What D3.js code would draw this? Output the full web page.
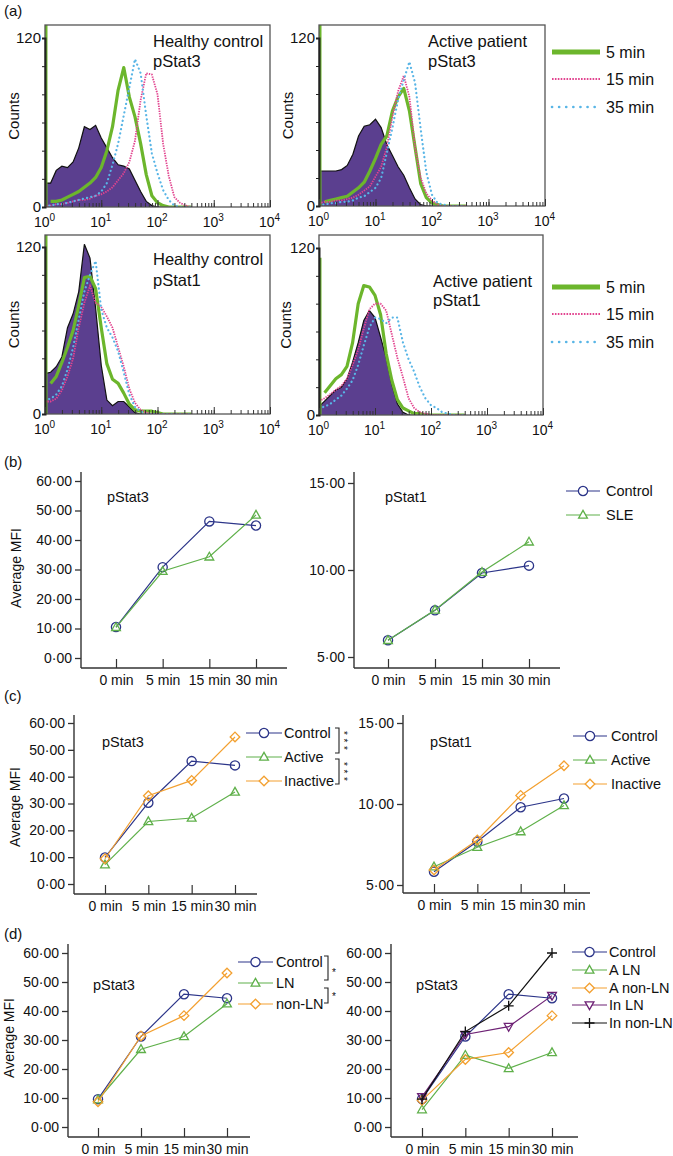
<!DOCTYPE html>
<html>
  <head>
    <meta charset="utf-8" />
    <title>pStat3 / pStat1 figure</title>
    <script src="https://d3js.org/d3.v7.min.js"></script>
    <style>
      body { margin: 0; background: #fff; }
      svg text { font-family: "Liberation Sans", Arial, sans-serif; fill: #111; }
    </style>
  </head>
  <body>
    <svg id="fig" width="673" height="1156"></svg>
    <script>
      // ---------- (a) flow histograms, counts per log10 bin ----------
      var logBins = [0.0, 0.1, 0.2, 0.3, 0.4, 0.5, 0.6, 0.7, 0.8, 0.9, 1.0, 1.1, 1.2, 1.3,
                     1.4, 1.5, 1.6, 1.7, 1.8, 1.9, 2.0, 2.1, 2.2, 2.3, 2.4, 2.5, 2.6];
      var decades = [1, 10, 100, 1000, 10000];
      var decadeExp = ["0", "1", "2", "3", "4"];
      var legendTimes = ["5 min", "15 min", "35 min"];

      // healthy control, pStat3 (first 5 min value = pile-up on the axis)
      var hcS3Unstim = [17, 17, 26, 29, 28, 32, 42, 57, 55, 58, 49, 42, 35, 30, 29, 27, 19, 11, 4, 1, 0, 0, 0, 0, 0, 0, 0];
      var hcS3Min5   = [135, 4, 4, 5, 7, 9, 11, 14, 17, 21, 28, 40, 57, 83, 99, 78, 64, 45, 23, 8, 3, 1, 0, 0, 0, 0, 0];
      var hcS3Min15  = [1, 1, 2, 2, 3, 4, 5, 5, 6, 8, 9, 11, 14, 19, 24, 32, 47, 76, 95, 94, 80, 45, 22, 7, 3, 1, 0];
      var hcS3Min35  = [1, 1, 2, 2, 3, 4, 5, 6, 7, 8, 11, 17, 30, 45, 65, 85, 105, 95, 65, 38, 24, 12, 5, 1, 0, 0, 0];
      // active patient, pStat3
      var apS3Unstim = [25, 25, 25, 25, 26, 29, 37, 50, 57, 58, 62, 56, 44, 36, 28, 22, 13, 5, 1, 0, 0, 0, 0, 0, 0, 0, 0];
      var apS3Min5   = [135, 3, 4, 5, 6, 7, 10, 13, 17, 25, 34, 44, 50, 68, 78, 84, 68, 42, 16, 6, 2, 1, 0, 0, 0, 0, 0];
      var apS3Min15  = [2, 3, 3, 4, 4, 5, 6, 8, 11, 14, 21, 28, 42, 64, 82, 93, 78, 42, 20, 9, 4, 1, 0, 0, 0, 0, 0];
      var apS3Min35  = [1, 1, 2, 2, 3, 3, 4, 6, 7, 10, 13, 20, 38, 56, 76, 90, 103, 88, 55, 24, 8, 2, 1, 0, 0, 0, 0];
      // healthy control, pStat1
      var hcS1Unstim = [29, 30, 34, 41, 62, 72, 88, 122, 112, 76, 35, 10, 6, 9, 9, 5, 1, 0, 0, 0, 0, 0, 0, 0, 0, 0, 0];
      var hcS1Min5   = [135, 22, 27, 37, 48, 60, 78, 98, 99, 90, 62, 36, 25, 22, 15, 7, 3, 2, 2, 2, 1, 0, 0, 0, 0, 0, 0];
      var hcS1Min15  = [9, 9, 11, 17, 27, 40, 62, 80, 92, 80, 77, 70, 62, 48, 34, 18, 8, 3, 1, 0, 0, 0, 0, 0, 0, 0, 0];
      var hcS1Min35  = [10, 11, 14, 20, 32, 48, 68, 88, 100, 110, 75, 62, 55, 45, 30, 14, 5, 2, 0, 0, 0, 0, 0, 0, 0, 0, 0];
      // active patient, pStat1
      var apS1Unstim = [6, 10, 14, 18, 20, 26, 38, 52, 68, 75, 70, 56, 41, 22, 8, 2, 0, 0, 0, 0, 0, 0, 0, 0, 0, 0, 0];
      var apS1Min5   = [113, 16, 21, 26, 29, 35, 52, 80, 93, 92, 86, 72, 44, 25, 11, 5, 3, 1, 1, 0, 0, 0, 0, 0, 0, 0, 0];
      var apS1Min15  = [10, 12, 15, 18, 21, 26, 36, 47, 62, 76, 80, 80, 75, 58, 41, 27, 12, 5, 2, 1, 0, 0, 0, 0, 0, 0, 0];
      var apS1Min35  = [5, 6, 8, 11, 14, 19, 25, 36, 50, 63, 70, 69, 66, 70, 70, 52, 40, 31, 20, 12, 7, 5, 2, 1, 0, 0, 0];

      // ---------- (b)-(d) average MFI ----------
      var times = ["0 min", "5 min", "15 min", "30 min"];
      var ticks60 = [0, 10, 20, 30, 40, 50, 60];
      var ticks15 = [5, 10, 15];

      var bCtrl3 = [10.5, 30.8, 46.3, 44.9];
      var bSle3  = [10.4, 29.4, 34.3, 48.5];
      var bCtrl1 = [5.96, 7.68, 9.83, 10.25];
      var bSle1  = [5.96, 7.70, 9.88, 11.62];

      var cCtrl3 = [9.9, 30.3, 45.8, 44.2];
      var cAct3  = [7.2, 23.3, 24.6, 34.3];
      var cInact3 = [9.4, 32.9, 38.6, 54.8];
      var cCtrl1 = [5.82, 7.68, 9.80, 10.34];
      var cAct1  = [6.13, 7.33, 8.30, 9.91];
      var cInact1 = [5.93, 7.78, 10.53, 12.36];

      var dCtrl3  = [9.6, 31.2, 45.8, 44.4];
      var dLn3    = [9.4, 26.8, 31.2, 42.5];
      var dNonLn3 = [8.7, 31.4, 38.4, 53.1];
      var dALn    = [6.0, 24.8, 20.2, 25.7];
      var dANonLn = [9.2, 23.3, 25.7, 38.4];
      var dInLn   = [10.4, 31.9, 34.6, 45.3];
      var dInNonLn = [9.6, 32.9, 41.8, 60.0];

      var svg = d3.select("#fig");
      var purple = "#5b3f8f", green = "#6cb62c", pink = "#e2448f", blue = "#58b5e6";

      var label = function (x, y, s, size, anchor) {
        return svg.append("text").attr("x", x).attr("y", y).attr("font-size", size)
          .attr("text-anchor", anchor || "start").text(s);
      };
      var vlabel = function (x, y, s, size) {
        return svg.append("text").attr("transform", "translate(" + x + "," + y + ") rotate(-90)")
          .attr("font-size", size).attr("text-anchor", "middle").text(s);
      };

      label(4, 16, "(a)", 15);
      label(4, 467, "(b)", 15);
      label(4, 701, "(c)", 15);
      label(4, 939, "(d)", 15);

      // ---------- histogram panels ----------
      var histPanels = [
        { id: "hTL", x0: 45, x1: 270, top: 25, bottom: 207, y120: 38, tx: 153, ty: 47, gap: 20,
          title: ["Healthy control", "pStat3"], cx: 19, data: [hcS3Unstim, hcS3Min5, hcS3Min15, hcS3Min35] },
        { id: "hTR", x0: 319, x1: 545, top: 25, bottom: 206, y120: 38, tx: 428, ty: 47, gap: 20,
          title: ["Active patient", "pStat3"], cx: 293, data: [apS3Unstim, apS3Min5, apS3Min15, apS3Min35] },
        { id: "hBL", x0: 45, x1: 270, top: 235, bottom: 414, y120: 247, tx: 153, ty: 265, gap: 21,
          title: ["Healthy control", "pStat1"], cx: 19, data: [hcS1Unstim, hcS1Min5, hcS1Min15, hcS1Min35] },
        { id: "hBR", x0: 319, x1: 543, top: 235, bottom: 415, y120: 248, tx: 433, ty: 287, gap: 19,
          title: ["Active patient", "pStat1"], cx: 291, data: [apS1Unstim, apS1Min5, apS1Min15, apS1Min35] }
      ];

      histPanels.forEach(function (p) {
        var g = svg.append("g");
        var x = d3.scaleLog().domain([1, 10000]).range([p.x0, p.x1]);
        var y = d3.scaleLinear().domain([0, 120]).range([p.bottom, p.y120]);

        g.append("clipPath").attr("id", "clip" + p.id).append("rect")
          .attr("x", p.x0).attr("y", p.top).attr("width", p.x1 - p.x0).attr("height", p.bottom - p.top);
        var plot = g.append("g").attr("clip-path", "url(#clip" + p.id + ")");

        var bx = function (d, i) { return x(Math.pow(10, logBins[i])); };
        var area = d3.area().x(bx).y0(y(0)).y1(function (d) { return y(d); });
        var line = d3.line().x(bx).y(function (d) { return y(d); });
        var afterPile = d3.line().defined(function (d, i) { return i > 0; }).x(bx).y(function (d) { return y(d); });

        plot.append("path").datum(p.data[0]).attr("d", area).attr("fill", purple);
        plot.append("path").datum(p.data[0]).attr("d", line).attr("fill", "none")
          .attr("stroke", "#111").attr("stroke-width", 1.2);
        // 5 min: pile-up in the first channel drawn on the axis, then the curve
        plot.append("line").attr("x1", x(1) + 1).attr("x2", x(1) + 1)
          .attr("y1", y(0)).attr("y2", y(p.data[1][0])).attr("stroke", green).attr("stroke-width", 3);
        plot.append("path").datum(p.data[1]).attr("d", afterPile).attr("fill", "none")
          .attr("stroke", green).attr("stroke-width", 3.2).attr("stroke-linejoin", "round");
        plot.append("path").datum(p.data[2]).attr("d", line).attr("fill", "none")
          .attr("stroke", pink).attr("stroke-width", 1.8).attr("stroke-dasharray", "1.4,1.1");
        plot.append("path").datum(p.data[3]).attr("d", line).attr("fill", "none")
          .attr("stroke", blue).attr("stroke-width", 2.2).attr("stroke-linecap", "round")
          .attr("stroke-dasharray", "0.1,4.2");

        g.append("rect").attr("x", p.x0).attr("y", p.top).attr("width", p.x1 - p.x0)
          .attr("height", p.bottom - p.top).attr("fill", "none").attr("stroke", "#555").attr("stroke-width", 1.3);

        // y ticks
        g.append("g").attr("transform", "translate(" + p.x0 + ",0)")
          .call(d3.axisLeft(y).tickValues([0, 20, 40, 60, 80, 100, 120]).tickSize(3).tickPadding(1)
            .tickFormat(function (d) { return d === 0 || d === 120 ? d : ""; }))
          .call(function (a) {
            a.select(".domain").attr("stroke", "#222").attr("stroke-width", 2);
            a.selectAll("line").attr("stroke", "#222");
            a.selectAll("text").attr("font-size", 15);
          });

        // x ticks: minor then labelled decades
        g.append("g").attr("transform", "translate(0," + p.bottom + ")")
          .call(d3.axisBottom(x).tickValues(x.ticks()).tickSize(-4).tickFormat(""))
          .call(function (a) { a.select(".domain").remove(); a.selectAll("line").attr("stroke", "#333"); });
        g.append("g").attr("transform", "translate(0," + p.bottom + ")")
          .call(d3.axisBottom(x).tickValues(decades).tickSize(-7).tickFormat(""))
          .call(function (a) {
            a.select(".domain").remove();
            a.selectAll("line").attr("stroke", "#333");
            a.selectAll(".tick text").each(function (d, i) {
              var t = d3.select(this).attr("y", 20).attr("dy", null).attr("x", -1)
                .attr("font-size", 14).attr("text-anchor", "middle").text("10");
              t.append("tspan").attr("dy", -6).attr("font-size", 10).text(decadeExp[i]);
            });
          });

        label(p.tx, p.ty, p.title[0], 16.5);
        label(p.tx, p.ty + p.gap, p.title[1], 16.5);
        vlabel(p.cx, (p.top + p.bottom) / 2, "Counts", 15);
      });

      // (a) legends
      [52, 287].forEach(function (y0) {
        var rows = [y0, y0 + 27, y0 + 55];
        var styles = [
          { c: green, w: 5, dash: null, cap: "butt" },
          { c: pink, w: 2.2, dash: "1.6,1.3", cap: "butt" },
          { c: blue, w: 2.6, dash: "0.1,7", cap: "round" }
        ];
        legendTimes.forEach(function (t, i) {
          var s = styles[i];
          svg.append("line").attr("x1", 552).attr("x2", 600).attr("y1", rows[i]).attr("y2", rows[i])
            .attr("stroke", s.c).attr("stroke-width", s.w).attr("stroke-dasharray", s.dash)
            .attr("stroke-linecap", s.cap);
          label(606, rows[i] + 6, t, 16);
        });
      });

      // ---------- line panels ----------
      var groupStyle = {
        "Control": { c: "#2c3589", m: "circle" },
        "SLE": { c: "#5fb04a", m: "triangle" },
        "Active": { c: "#5fb04a", m: "triangle" },
        "Inactive": { c: "#f3a030", m: "diamond" },
        "LN": { c: "#5fb04a", m: "triangle" },
        "non-LN": { c: "#f3a030", m: "diamond" },
        "A LN": { c: "#5fb04a", m: "triangle" },
        "A non-LN": { c: "#f3a030", m: "diamond" },
        "In LN": { c: "#6e2275", m: "tridown" },
        "In non-LN": { c: "#111", m: "plus" }
      };
      var shapes = {
        circle: "M4.6,0A4.6,4.6 0 1,1 -4.6,0A4.6,4.6 0 1,1 4.6,0Z",
        triangle: "M0,-4.6L4.4,3.2L-4.4,3.2Z",
        diamond: "M0,-4.8L4.8,0L0,4.8L-4.8,0Z",
        tridown: "M0,4.6L4.4,-3.2L-4.4,-3.2Z",
        plus: "M-5,0H5M0,-5V5"
      };
      var fmt = function (v) { return d3.format(".2f")(v).replace(".", "\u00b7"); };

      var linePanels = [
        { ax: 81, ay: 668, top: 472, right: 287, c0: 116, c3: 256, dom: [0, 60], rng: [658, 481], ticks: ticks60,
          name: "pStat3", nx: 107, ny: 502, ylab: [21, 568],
          series: [["Control", bCtrl3], ["SLE", bSle3]] },
        { ax: 354, ay: 668, top: 472, right: 560, c0: 388, c3: 529, dom: [5, 15], rng: [657, 483], ticks: ticks15,
          name: "pStat1", nx: 385, ny: 502,
          series: [["Control", bCtrl1], ["SLE", bSle1]],
          legend: { x0: 566, x1: 600, tx: 606, ys: [491, 515] } },
        { ax: 74, ay: 894, top: 715, right: 257, c0: 105, c3: 235, dom: [0, 60], rng: [884, 723], ticks: ticks60,
          name: "pStat3", nx: 102, ny: 747, ylab: [20, 807],
          series: [["Control", cCtrl3], ["Active", cAct3], ["Inactive", cInact3]],
          legend: { x0: 246, x1: 282, tx: 284, ys: [733, 757, 781] } },
        { ax: 403, ay: 893, top: 715, right: 590, c0: 434, c3: 564, dom: [5, 15], rng: [885, 723], ticks: ticks15,
          name: "pStat1", nx: 430, ny: 747,
          series: [["Control", cCtrl1], ["Active", cAct1], ["Inactive", cInact1]],
          legend: { x0: 573, x1: 607, tx: 611, ys: [736, 760, 784] } },
        { ax: 68, ay: 1137, top: 944, right: 250, c0: 98, c3: 227, dom: [0, 60], rng: [1127, 953], ticks: ticks60,
          name: "pStat3", nx: 93, ny: 990, ylab: [14, 1038],
          series: [["Control", dCtrl3], ["LN", dLn3], ["non-LN", dNonLn3]],
          legend: { x0: 238, x1: 273, tx: 276, ys: [962, 983, 1004] } },
        { ax: 391, ay: 1137, top: 944, right: 578, c0: 422, c3: 552, dom: [0, 60], rng: [1127, 953], ticks: ticks60,
          name: "pStat3", nx: 416, ny: 990,
          series: [["Control", dCtrl3], ["A LN", dALn], ["A non-LN", dANonLn], ["In LN", dInLn], ["In non-LN", dInNonLn]],
          legend: { x0: 572, x1: 607, tx: 609, ys: [952, 970, 988, 1005, 1023] } }
      ];

      linePanels.forEach(function (p) {
        var g = svg.append("g");
        var x = d3.scalePoint().domain(times).range([p.c0, p.c3]);
        var y = d3.scaleLinear().domain(p.dom).range(p.rng);

        g.append("line").attr("x1", p.ax).attr("x2", p.ax).attr("y1", p.top).attr("y2", p.ay)
          .attr("stroke", "#333").attr("stroke-width", 1.4);
        g.append("line").attr("x1", p.ax).attr("x2", p.right).attr("y1", p.ay).attr("y2", p.ay)
          .attr("stroke", "#333").attr("stroke-width", 1.4);

        g.append("g").attr("transform", "translate(" + p.ax + ",0)")
          .call(d3.axisLeft(y).tickValues(p.ticks).tickSize(6).tickPadding(3).tickFormat(fmt))
          .call(function (a) {
            a.select(".domain").remove();
            a.selectAll("line").attr("stroke", "#333").attr("stroke-width", 1.3);
            a.selectAll("text").attr("font-size", 14);
          });
        g.append("g").attr("transform", "translate(0," + p.ay + ")")
          .call(d3.axisBottom(x).tickSize(-9).tickPadding(7))
          .call(function (a) {
            a.select(".domain").remove();
            a.selectAll("line").attr("stroke", "#333").attr("stroke-width", 1.2);
            a.selectAll("text").attr("font-size", 14);
          });

        p.series.forEach(function (s) {
          var st = groupStyle[s[0]];
          var line = d3.line().x(function (d, i) { return x(times[i]); }).y(function (d) { return y(d); });
          g.append("path").datum(s[1]).attr("d", line).attr("fill", "none")
            .attr("stroke", st.c).attr("stroke-width", 1.2);
          g.selectAll(null).data(s[1]).join("path")
            .attr("transform", function (d, i) { return "translate(" + x(times[i]) + "," + y(d) + ")"; })
            .attr("d", shapes[st.m]).attr("fill", "none").attr("stroke", st.c).attr("stroke-width", 1.3);
        });

        label(p.nx, p.ny, p.name, 14.5);
        if (p.ylab) vlabel(p.ylab[0], p.ylab[1], "Average MFI", 14);

        if (p.legend) {
          var L = p.legend;
          p.series.forEach(function (s, i) {
            var st = groupStyle[s[0]], yy = L.ys[i];
            g.append("line").attr("x1", L.x0).attr("x2", L.x1).attr("y1", yy).attr("y2", yy)
              .attr("stroke", st.c).attr("stroke-width", 1.2);
            g.append("path").attr("transform", "translate(" + (L.x0 + L.x1) / 2 + "," + yy + ")")
              .attr("d", shapes[st.m]).attr("fill", "#fff").attr("stroke", st.c).attr("stroke-width", 1.3);
            label(L.tx, yy + 5, s[0], 14.5);
          });
        }
      });

      // significance brackets; a column of stars is one text turned on its side
      var bracket = function (x, y1, y2) {
        svg.append("path").attr("d", "M" + (x - 4) + "," + y1 + "H" + x + "V" + y2 + "H" + (x - 4))
          .attr("fill", "none").attr("stroke", "#222").attr("stroke-width", 1.1);
      };
      var starColumn = function (x, y, s) {
        svg.append("text").attr("transform", "translate(" + x + "," + y + ") rotate(90)")
          .attr("font-size", 10).attr("letter-spacing", 3.6).text(s);
      };
      bracket(339, 728, 753);
      bracket(339, 759, 784);
      starColumn(340, 731, "***");
      starColumn(340, 762, "***");
      bracket(328, 956, 980);
      bracket(328, 988, 1003);
      label(334, 976, "*", 10, "middle");
      label(334, 1000, "*", 10, "middle");
    </script>
  </body>
</html>
